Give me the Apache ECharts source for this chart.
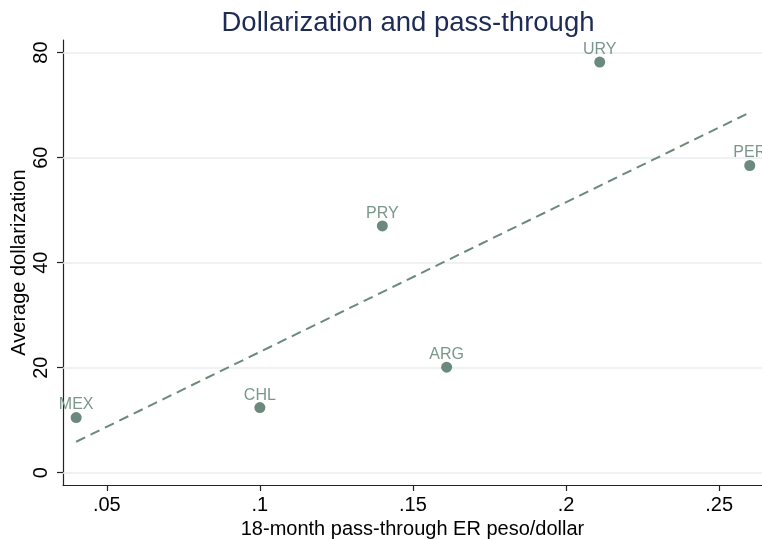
<!DOCTYPE html>
<html>
<head>
<meta charset="utf-8">
<script src="https://cdn.jsdelivr.net/npm/echarts@6/dist/echarts.min.js"></script>
<style>html,body{margin:0;padding:0;background:#fff}#c{width:762px;height:539px}</style>
</head>
<body>
<div id="c"></div>
<script>
const countries = ['MEX', 'CHL', 'ARG', 'PRY', 'URY', 'PER'];
const passThrough = [0.040, 0.100, 0.161, 0.140, 0.211, 0.260];
const dollarization = [10.5, 12.4, 20.1, 47.0, 78.2, 58.5];
const fitX = [0.040, 0.260];
const fitY = [5.9, 68.6];
const xTicks = [0.05, 0.10, 0.15, 0.20, 0.25];
const yTicks = [0, 20, 40, 60, 80];

const FONT = '"Liberation Sans", Arial, Helvetica, sans-serif';
const green = '#6b897d';

const chart = echarts.init(document.getElementById('c'), null, {renderer: 'canvas'});
chart.setOption({
  animation: false,
  backgroundColor: '#ffffff',
  title: {
    text: 'Dollarization and pass-through',
    left: 403, top: 4, textAlign: 'center',
    textStyle: {fontFamily: FONT, fontSize: 27.5, fontWeight: 'normal', color: '#1d2b55'}
  },
  grid: {left: 63, right: 0, top: 40, bottom: 54, containLabel: false, outerBoundsMode: 'none'},
  xAxis: {
    type: 'value', min: 0.0357, max: 0.264,
    name: '18-month pass-through ER peso/dollar',
    nameLocation: 'middle', nameGap: 34, nameMoveOverlap: false,
    nameTextStyle: {fontFamily: FONT, fontSize: 20, color: '#000'},
    axisLine: {show: true, onZero: false, lineStyle: {color: '#222', width: 1.2}},
    axisTick: {show: true, length: 6, customValues: xTicks, lineStyle: {color: '#222', width: 1.2}},
    axisLabel: {customValues: xTicks, margin: 10, fontFamily: FONT, fontSize: 20, color: '#000',
      formatter: v => String(+v.toFixed(2)).replace(/^0\./, '.')},
    splitLine: {show: false}
  },
  yAxis: {
    type: 'value', min: -2.34, max: 82.4,
    name: 'Average dollarization',
    nameLocation: 'middle', nameGap: 34, nameRotate: 90, nameMoveOverlap: false,
    nameTextStyle: {fontFamily: FONT, fontSize: 20, color: '#000'},
    axisLine: {show: true, onZero: false, lineStyle: {color: '#222', width: 1.2}},
    axisTick: {show: true, length: 6, customValues: yTicks, lineStyle: {color: '#222', width: 1.2}},
    axisLabel: {customValues: yTicks, rotate: 90, margin: 12, fontFamily: FONT, fontSize: 20, color: '#000'},
    splitLine: {show: false}
  },
  series: [
    {
      type: 'line',
      data: fitX.map((x, i) => [x, fitY[i]]),
      symbol: 'none',
      lineStyle: {color: green, width: 2, type: [10, 6]},
      z: 2,
      markLine: {
        silent: true, symbol: 'none', label: {show: false},
        lineStyle: {color: '#e8eef2', width: 1.5, type: 'solid'},
        data: yTicks.map(v => ({yAxis: v})),
        z: 1
      }
    },
    {
      type: 'scatter',
      data: passThrough.map((x, i) => [x, dollarization[i], countries[i]]),
      symbol: 'circle', symbolSize: 11,
      itemStyle: {color: green, opacity: 1},
      label: {show: true, position: 'top', distance: -1, formatter: p => p.data[2],
        fontFamily: FONT, fontSize: 16, color: '#7b978b'},
      z: 3
    }
  ]
});
</script>
</body>
</html>
